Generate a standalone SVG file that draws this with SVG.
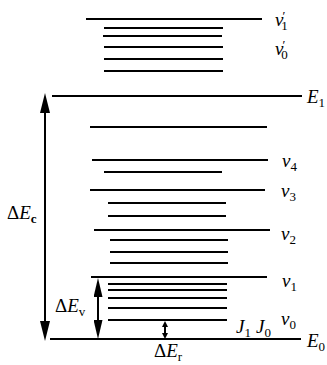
<svg xmlns="http://www.w3.org/2000/svg" width="327" height="365" viewBox="0 0 327 365">
<style>
.lv{stroke:#000;stroke-width:2;fill:none}
.ar{stroke:#000;stroke-width:2;fill:none}
.t{font-family:'Liberation Serif','DejaVu Serif',serif;font-size:19px;fill:#000}
.i{font-style:italic}
.s{font-size:13px;font-style:normal}
</style>
<defs>
<marker id="big" markerUnits="userSpaceOnUse" markerWidth="20" markerHeight="10" refX="0" refY="5" orient="auto-start-reverse" viewBox="0 0 20 10"><path d="M0,0 L20,5 L0,10 z" fill="#000"/></marker>
<marker id="mid" markerUnits="userSpaceOnUse" markerWidth="19" markerHeight="9" refX="0" refY="4.5" orient="auto-start-reverse" viewBox="0 0 19 9"><path d="M0,0 L19,4.5 L0,9 z" fill="#000"/></marker>
<marker id="sm" markerUnits="userSpaceOnUse" markerWidth="6" markerHeight="6" refX="0" refY="3" orient="auto-start-reverse" viewBox="0 0 6 6"><path d="M0,0 L6,3 L0,6 z" fill="#000"/></marker>
</defs>
<g id="upper-levels">
<line class="lv" x1="86" y1="19" x2="262" y2="19"/>
<line class="lv" x1="104" y1="28" x2="223" y2="28"/>
<line class="lv" x1="103" y1="36" x2="222" y2="36"/>
<line class="lv" x1="104" y1="47" x2="223" y2="47"/>
<line class="lv" x1="104" y1="59" x2="223" y2="59"/>
<line class="lv" x1="104" y1="71" x2="223" y2="71"/>
</g>
<g id="E1-level">
<line class="lv" x1="52" y1="96" x2="302" y2="96"/>
</g>
<g id="lower-levels">
<line class="lv" x1="90" y1="127" x2="267" y2="127"/>
<line class="lv" x1="92" y1="160" x2="268" y2="160"/>
<line class="lv" x1="104" y1="172" x2="222" y2="172"/>
<line class="lv" x1="90" y1="190" x2="265" y2="190"/>
<line class="lv" x1="108" y1="203" x2="226" y2="203"/>
<line class="lv" x1="108" y1="216" x2="226" y2="216"/>
<line class="lv" x1="94" y1="230" x2="270" y2="230"/>
<line class="lv" x1="110" y1="240" x2="228" y2="240"/>
<line class="lv" x1="110" y1="252" x2="228" y2="252"/>
<line class="lv" x1="110" y1="263" x2="228" y2="263"/>
<line class="lv" x1="91" y1="277" x2="267" y2="277"/>
<line class="lv" x1="108" y1="284" x2="227" y2="284"/>
<line class="lv" x1="108" y1="290" x2="227" y2="290"/>
<line class="lv" x1="108" y1="298" x2="227" y2="298"/>
<line class="lv" x1="108" y1="308" x2="227" y2="308"/>
<line class="lv" x1="108" y1="320" x2="227" y2="320"/>
</g>
<g id="E0-level">
<line class="lv" x1="50" y1="339" x2="301" y2="339"/>
</g>
<g id="connectors">
<line class="ar" x1="45" y1="321" x2="45" y2="113" marker-start="url(#big)" marker-end="url(#big)"/>
<line class="ar" x1="98" y1="320" x2="98" y2="297" marker-start="url(#mid)" marker-end="url(#mid)"/>
<line class="ar" x1="165" y1="333" x2="165" y2="327" stroke-width="1.5" marker-start="url(#sm)" marker-end="url(#sm)"/>
</g>
<g id="labels">
<text x="275" y="26" class="t i">v<tspan class="s" dy="-6" dx="-1">′</tspan><tspan class="s" dx="-4" dy="10">1</tspan></text>
<text x="275" y="55" class="t i">v<tspan class="s" dy="-6" dx="-1">′</tspan><tspan class="s" dx="-4" dy="10">0</tspan></text>
<text x="307" y="103" class="t i">E<tspan class="s" dy="4">1</tspan></text>
<text x="282" y="167" class="t i">v<tspan class="s" dy="4">4</tspan></text>
<text x="281" y="197" class="t i">v<tspan class="s" dy="4">3</tspan></text>
<text x="281" y="240" class="t i">v<tspan class="s" dy="4">2</tspan></text>
<text x="282" y="287" class="t i">v<tspan class="s" dy="4">1</tspan></text>
<text x="281" y="325" class="t i">v<tspan class="s" dy="4">0</tspan></text>
<text x="236" y="333" class="t i">J<tspan class="s" dy="4">1</tspan></text>
<text x="256" y="333" class="t i">J<tspan class="s" dy="4">0</tspan></text>
<text x="307" y="347" class="t i">E<tspan class="s" dy="4">0</tspan></text>
<text x="7" y="219" class="t">Δ<tspan class="i">E</tspan><tspan class="s" dy="4" font-weight="bold">c</tspan></text>
<text x="55" y="312" class="t">Δ<tspan class="i">E</tspan><tspan class="s" dy="4" font-style="italic">v</tspan></text>
<text x="154" y="357" class="t">Δ<tspan class="i">E</tspan><tspan class="s" dy="4" font-style="italic">r</tspan></text>
</g>
</svg>
